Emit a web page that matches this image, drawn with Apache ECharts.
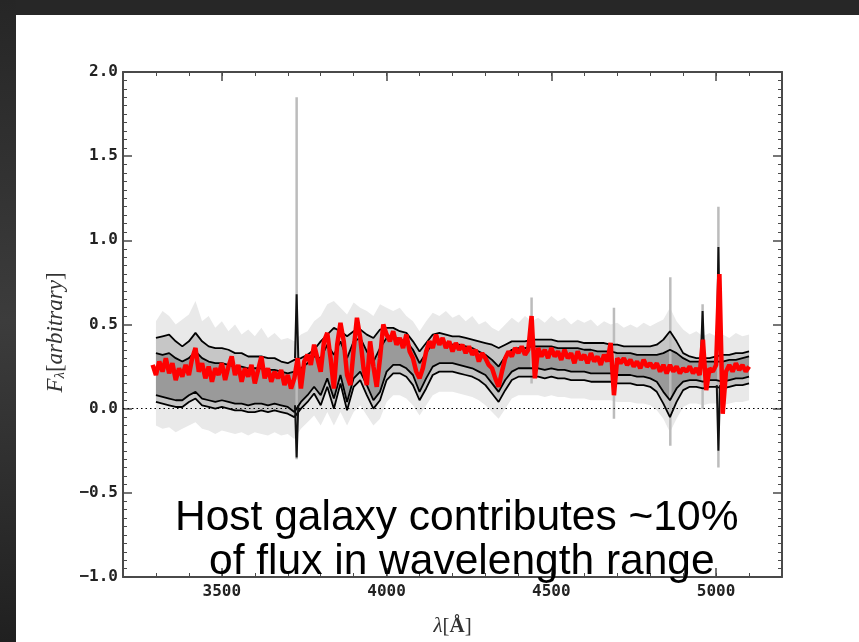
<!DOCTYPE html>
<html>
<head>
<meta charset="utf-8">
<script src="https://cdn.jsdelivr.net/npm/echarts@6/dist/echarts.min.js"></script>
<style>
  html, body { margin: 0; padding: 0; background: #fff; }
  #chart { width: 859px; height: 642px; }
</style>
</head>
<body>
<div id="chart"></div>
<script>
// Major tick positions
const xMajorTicks = [3500, 4000, 4500, 5000];

// Mean host-galaxy spectrum, sampled every 10 Å from 3290 Å
const redStart = 3290, redStep = 10;
const meanFlux = [
  0.26, 0.20, 0.28, 0.22, 0.30, 0.21, 0.27, 0.17, 0.24, 0.19,
  0.26, 0.20, 0.30, 0.36, 0.22, 0.27, 0.18, 0.25, 0.16, 0.24,
  0.20, 0.27, 0.17, 0.25, 0.31, 0.20, 0.26, 0.16, 0.24, 0.19,
  0.26, 0.15, 0.23, 0.31, 0.18, 0.24, 0.16, 0.22, 0.18, 0.23,
  0.14, 0.20, 0.12, 0.18, 0.30,
  0.12, 0.28, 0.32, 0.26, 0.38, 0.30, 0.22, 0.40, 0.45, 0.30,
  0.12, 0.38, 0.51, 0.40, 0.20, 0.14, 0.35, 0.54, 0.42, 0.24,
  0.14, 0.40, 0.25, 0.13, 0.30, 0.50, 0.44, 0.40, 0.46, 0.38,
  0.42, 0.36, 0.44, 0.34, 0.30, 0.22, 0.18,
  0.24, 0.34, 0.40, 0.36, 0.44, 0.38, 0.42, 0.36, 0.40, 0.34,
  0.39, 0.35, 0.38, 0.33, 0.37, 0.32, 0.35, 0.28, 0.33, 0.30,
  0.26, 0.24, 0.18, 0.13, 0.22, 0.30, 0.34, 0.31, 0.36, 0.33,
  0.37, 0.32, 0.35, 0.55, 0.18, 0.36, 0.31, 0.35, 0.30, 0.36,
  0.31, 0.34, 0.29, 0.35, 0.30, 0.33, 0.27, 0.34, 0.29, 0.32,
  0.27, 0.33, 0.28, 0.31, 0.26, 0.32, 0.28, 0.39, 0.08, 0.30,
  0.27, 0.30, 0.26, 0.29, 0.25, 0.28, 0.24, 0.29, 0.25, 0.27,
  0.24, 0.27, 0.22, 0.26, 0.21, 0.26, 0.22, 0.25, 0.21, 0.24,
  0.22, 0.25, 0.21, 0.24, 0.20, 0.41, 0.11, 0.24, 0.22, 0.26,
  0.80, -0.03, 0.22, 0.26, 0.22, 0.27, 0.23, 0.26, 0.22, 0.25
];

// Percentile curves and envelopes, sampled every 20 Å from 3300 Å
const envStart = 3300, envStep = 20;
const upperOuter = [
  0.42, 0.43, 0.44, 0.40, 0.37, 0.40, 0.45, 0.40, 0.37, 0.36,
  0.36, 0.35, 0.33, 0.33, 0.31, 0.31, 0.31, 0.30, 0.30, 0.28,
  0.27, 0.29, 0.30, 0.32, 0.35, 0.40, 0.44, 0.48, 0.46, 0.43,
  0.46, 0.47, 0.44, 0.42, 0.47, 0.48, 0.48, 0.46, 0.45, 0.40,
  0.34, 0.39, 0.44, 0.45, 0.44, 0.43, 0.43, 0.42, 0.41, 0.40,
  0.39, 0.38, 0.36, 0.38, 0.40, 0.40, 0.40, 0.41, 0.41, 0.41,
  0.41, 0.40, 0.40, 0.40, 0.40, 0.39, 0.39, 0.39, 0.39, 0.38,
  0.38, 0.37, 0.37, 0.37, 0.37, 0.37, 0.38, 0.41, 0.46, 0.40,
  0.33, 0.31, 0.30, 0.30, 0.30, 0.31, 0.32, 0.32, 0.33, 0.33,
  0.34
];
const upperInner = [
  0.33, 0.32, 0.33, 0.30, 0.28, 0.30, 0.34, 0.30, 0.28, 0.27,
  0.27, 0.26, 0.25, 0.25, 0.24, 0.24, 0.24, 0.23, 0.23, 0.22,
  0.21, 0.22, 0.24, 0.27, 0.31, 0.30, 0.38, 0.32, 0.40, 0.30,
  0.40, 0.42, 0.34, 0.28, 0.36, 0.42, 0.43, 0.41, 0.40, 0.35,
  0.27, 0.33, 0.39, 0.40, 0.39, 0.38, 0.38, 0.37, 0.36, 0.34,
  0.32, 0.29, 0.25, 0.31, 0.35, 0.36, 0.36, 0.37, 0.37, 0.37,
  0.37, 0.36, 0.36, 0.36, 0.36, 0.35, 0.35, 0.34, 0.34, 0.34,
  0.33, 0.33, 0.33, 0.32, 0.32, 0.32, 0.32, 0.33, 0.35, 0.33,
  0.30, 0.28, 0.28, 0.28, 0.28, 0.28, 0.28, 0.29, 0.29, 0.30,
  0.31
];
const lowerInner = [
  0.08, 0.07, 0.06, 0.05, 0.05, 0.08, 0.10, 0.06, 0.05, 0.04,
  0.05, 0.04, 0.03, 0.03, 0.02, 0.03, 0.03, 0.02, 0.03, 0.02,
  0.01, -0.02, 0.04, 0.08, 0.13, 0.08, 0.18, 0.06, 0.20, 0.04,
  0.18, 0.22, 0.14, 0.05, 0.10, 0.22, 0.26, 0.26, 0.24, 0.20,
  0.10, 0.18, 0.25, 0.27, 0.27, 0.27, 0.26, 0.25, 0.24, 0.22,
  0.20, 0.15, 0.10, 0.17, 0.22, 0.24, 0.24, 0.24, 0.24, 0.23,
  0.24, 0.23, 0.23, 0.22, 0.22, 0.22, 0.21, 0.21, 0.21, 0.21,
  0.20, 0.20, 0.20, 0.19, 0.19, 0.18, 0.16, 0.10, 0.05, 0.12,
  0.16, 0.17, 0.17, 0.16, 0.17, 0.17, 0.16, 0.17, 0.18, 0.18,
  0.19
];
const lowerOuter = [
  0.04, 0.03, 0.02, 0.01, 0.01, 0.04, 0.06, 0.02, 0.01, 0.00,
  0.01, 0.00, -0.01, -0.01, -0.02, -0.02, -0.01, -0.02, -0.01, -0.02,
  -0.03, -0.05, 0.00, 0.04, 0.09, 0.02, 0.13, 0.00, 0.15, -0.01,
  0.13, 0.17, 0.08, 0.00, 0.05, 0.17, 0.21, 0.21, 0.19, 0.14,
  0.05, 0.12, 0.20, 0.22, 0.22, 0.22, 0.21, 0.20, 0.19, 0.17,
  0.14, 0.09, 0.04, 0.11, 0.17, 0.19, 0.19, 0.19, 0.19, 0.18,
  0.19, 0.18, 0.18, 0.17, 0.17, 0.17, 0.16, 0.16, 0.16, 0.16,
  0.15, 0.15, 0.15, 0.14, 0.14, 0.13, 0.10, 0.03, -0.05, 0.04,
  0.11, 0.13, 0.13, 0.12, 0.13, 0.13, 0.12, 0.13, 0.14, 0.14,
  0.15
];
// Full spread of the individual spectra
const spreadHigh = [
  0.52, 0.58, 0.55, 0.50, 0.53, 0.56, 0.64, 0.52, 0.55, 0.48,
  0.52, 0.46, 0.50, 0.44, 0.47, 0.43, 0.48, 0.42, 0.45, 0.41,
  0.42, 0.40, 0.44, 0.46, 0.52, 0.55, 0.62, 0.64, 0.60, 0.56,
  0.63, 0.60, 0.58, 0.55, 0.62, 0.60, 0.58, 0.60, 0.55, 0.52,
  0.46, 0.52, 0.57, 0.55, 0.58, 0.54, 0.56, 0.52, 0.55, 0.50,
  0.52, 0.48, 0.46, 0.50, 0.54, 0.51, 0.55, 0.52, 0.54, 0.51,
  0.55, 0.52, 0.54, 0.50, 0.53, 0.51, 0.53, 0.49, 0.52, 0.50,
  0.51, 0.48, 0.50, 0.48, 0.51, 0.49, 0.51, 0.53, 0.60, 0.52,
  0.47, 0.44, 0.46, 0.43, 0.45, 0.43, 0.44, 0.42, 0.45, 0.43,
  0.44
];
const spreadLow = [
  -0.10, -0.12, -0.11, -0.14, -0.12, -0.10, -0.08, -0.12, -0.13, -0.15,
  -0.13, -0.14, -0.15, -0.14, -0.16, -0.14, -0.15, -0.16, -0.14, -0.16,
  -0.15, -0.18, -0.12, -0.08, -0.04, -0.10, -0.02, -0.10, -0.02, -0.10,
  -0.02, 0.02, -0.04, -0.10, -0.06, 0.04, 0.08, 0.08, 0.06, 0.02,
  -0.04, 0.02, 0.08, 0.10, 0.10, 0.10, 0.09, 0.08, 0.07, 0.05,
  0.02, -0.02, -0.06, 0.00, 0.06, 0.08, 0.08, 0.08, 0.08, 0.07,
  0.08, 0.07, 0.07, 0.06, 0.06, 0.06, 0.05, 0.05, 0.05, 0.05,
  0.04, 0.04, 0.04, 0.03, 0.03, 0.02, -0.01, -0.06, -0.14, -0.06,
  0.01, 0.03, 0.03, 0.02, 0.03, 0.03, 0.02, 0.03, 0.04, 0.04,
  0.05
];

// Emission-line residuals in the individual spectra (faint streaks)
const lineWave = [3727, 4440, 4690, 4861, 4959, 5007];
const lineLow  = [-0.30, 0.15, -0.06, -0.22, 0.00, -0.35];
const lineHigh = [1.85, 0.66, 0.60, 0.78, 0.62, 1.20];

// Emission-line residuals in the percentile curves (dark peaks)
const peakWave = [3727, 3727, 4959, 5007, 5007];
const peakBase = [0.30, 0.02, 0.32, 0.32, 0.14];
const peakTip  = [0.68, -0.29, 0.58, 0.96, -0.25];

const redWave = meanFlux.map((_, i) => redStart + i * redStep);
const envWave = upperOuter.map((_, i) => envStart + i * envStep);
const pairs = (w, v) => w.map((x, i) => [x, v[i]]);

const AX = '#4a4a4a';
const labelFont = { fontFamily: 'DejaVu Sans Mono', fontWeight: 'bold', fontSize: 16, color: '#222' };

// Filled region between two curves, drawn as one polygon on the cartesian grid
function band(low, high, color, z) {
  return {
    type: 'custom', silent: true, z,
    data: envWave.map((w, i) => [w, low[i], high[i]]),
    encode: { x: 0, y: [1, 2] },
    renderItem: (params, api) => {
      if (params.dataIndex !== 0) return null;
      const n = envWave.length;
      const pts = [];
      for (let i = 0; i < n; i++) pts.push(api.coord([api.value(0, i), api.value(2, i)]));
      for (let i = n - 1; i >= 0; i--) pts.push(api.coord([api.value(0, i), api.value(1, i)]));
      return { type: 'polygon', shape: { points: pts }, style: { fill: color } };
    }
  };
}

const series = [];
series.push(band(spreadLow, spreadHigh, '#e9e9e9', 1));
series.push(band(lowerOuter, upperOuter, '#c6c6c6', 2));
series.push(band(lowerInner, upperInner, '#9a9a9a', 3));

lineWave.forEach((w, i) => {
  series.push({ type: 'line', data: [[w, lineLow[i]], [w, lineHigh[i]]], symbol: 'none',
    lineStyle: { color: '#bcbcbc', width: 2.5 }, silent: true, z: 4 });
});

[upperOuter, upperInner, lowerInner, lowerOuter].forEach(arr => {
  series.push({ type: 'line', data: pairs(envWave, arr), symbol: 'none',
    lineStyle: { color: '#000', width: 1.8 }, silent: true, z: 5 });
});

peakWave.forEach((w, i) => {
  series.push({ type: 'line', data: [[w - 5, peakBase[i]], [w, peakTip[i]], [w + 5, peakBase[i]]],
    symbol: 'none', lineStyle: { color: '#111', width: 2 }, silent: true, z: 5 });
});

series.push({
  type: 'line', data: pairs(redWave, meanFlux), symbol: 'none',
  lineStyle: { color: '#ff0000', width: 4.5 }, silent: true, z: 6,
  markLine: {
    silent: true, symbol: 'none', label: { show: false },
    lineStyle: { color: '#000', width: 1, type: [1.5, 3] },
    data: [{ yAxis: 0 }]
  }
});

const xBase = { type: 'value', min: 3200, max: 5200, splitLine: { show: false } };
const yBase = { type: 'value', min: -1, max: 2, interval: 0.5, splitLine: { show: false } };

const option = {
  animation: false,
  backgroundColor: '#fff',
  grid: { left: 123, top: 72, right: 77, bottom: 59, containLabel: false },
  xAxis: [
    Object.assign({}, xBase, {
      position: 'bottom',
      axisLine: { show: true, onZero: false, lineStyle: { color: AX, width: 2 } },
      axisTick: { show: true, inside: true, length: 9, customValues: xMajorTicks, lineStyle: { color: AX, width: 1.5 } },
      axisLabel: Object.assign({ customValues: xMajorTicks, margin: 7, formatter: v => String(v) }, labelFont),
      name: '{l|λ}{b|[}{a|Å}{b|]}', nameLocation: 'middle', nameGap: 39,
      nameTextStyle: { rich: {
        l: { fontFamily: 'Liberation Serif', fontStyle: 'italic', fontSize: 21, color: '#333' },
        b: { fontFamily: 'Liberation Serif', fontSize: 21, color: '#333' },
        a: { fontFamily: 'Liberation Serif', fontWeight: 'bold', fontSize: 21, color: '#333' }
      } }
    }),
    Object.assign({}, xBase, {
      position: 'top',
      axisLine: { show: true, onZero: false, lineStyle: { color: AX, width: 2 } },
      axisTick: { show: true, inside: true, length: 9, customValues: xMajorTicks, lineStyle: { color: AX, width: 1.5 } },
      axisLabel: { show: false }
    }),
    Object.assign({}, xBase, {
      position: 'bottom', interval: 100,
      axisLine: { show: false, onZero: false },
      axisTick: { show: true, inside: true, length: 4, lineStyle: { color: AX, width: 1 } },
      axisLabel: { show: false }
    }),
    Object.assign({}, xBase, {
      position: 'top', interval: 100,
      axisLine: { show: false, onZero: false },
      axisTick: { show: true, inside: true, length: 4, lineStyle: { color: AX, width: 1 } },
      axisLabel: { show: false }
    })
  ],
  yAxis: [
    Object.assign({}, yBase, {
      position: 'left',
      axisLine: { show: true, onZero: false, lineStyle: { color: AX, width: 2 } },
      axisTick: { show: true, inside: true, length: 9, lineStyle: { color: AX, width: 1.5 } },
      minorTick: { show: true, splitNumber: 10, length: 4, lineStyle: { color: AX, width: 1 } },
      axisLabel: Object.assign({ margin: 5, formatter: v => v.toFixed(1).replace('-', '\u2212') }, labelFont),
      name: '{f|F}{s|λ}{b|[}{i|arbitrary}{b|]}', nameLocation: 'middle', nameRotate: 90, nameGap: 55,
      nameTextStyle: { padding: [0, 16, 0, 0], rich: {
        f: { fontFamily: 'Liberation Serif', fontStyle: 'italic', fontSize: 23, color: '#333' },
        s: { fontFamily: 'Liberation Serif', fontStyle: 'italic', fontSize: 15, color: '#333', padding: [10, 0, 0, 0] },
        b: { fontFamily: 'Liberation Serif', fontSize: 23, color: '#333' },
        i: { fontFamily: 'Liberation Serif', fontStyle: 'italic', fontSize: 23, color: '#333' }
      } }
    }),
    Object.assign({}, yBase, {
      position: 'right',
      axisLine: { show: true, onZero: false, lineStyle: { color: AX, width: 2 } },
      axisTick: { show: true, inside: true, length: 9, lineStyle: { color: AX, width: 1.5 } },
      minorTick: { show: true, splitNumber: 10, length: 4, lineStyle: { color: AX, width: 1 } },
      axisLabel: { show: false }
    })
  ],
  series,
  graphic: [
    { type: 'rect', left: 0, top: 0, shape: { width: 859, height: 15 }, style: { fill: '#272727' }, z: 100 },
    { type: 'rect', left: 0, top: 0, shape: { width: 16, height: 642 }, z: 100,
      style: { fill: new echarts.graphic.LinearGradient(0, 0, 0, 1, [
        { offset: 0, color: '#262626' }, { offset: 0.5, color: '#3c3c3c' }, { offset: 1, color: '#202020' }
      ]) } },
    { type: 'text', left: 175, top: 497, z: 100,
      style: { text: 'Host galaxy contributes ~10%', font: '42.5px "Liberation Sans", Arial, sans-serif', fill: '#000' } },
    { type: 'text', left: 209, top: 541, z: 100,
      style: { text: 'of flux in wavelength range', font: '42.5px "Liberation Sans", Arial, sans-serif', fill: '#000' } }
  ]
};

echarts.init(document.getElementById('chart'), null, { renderer: 'canvas' }).setOption(option);
</script>
</body>
</html>
